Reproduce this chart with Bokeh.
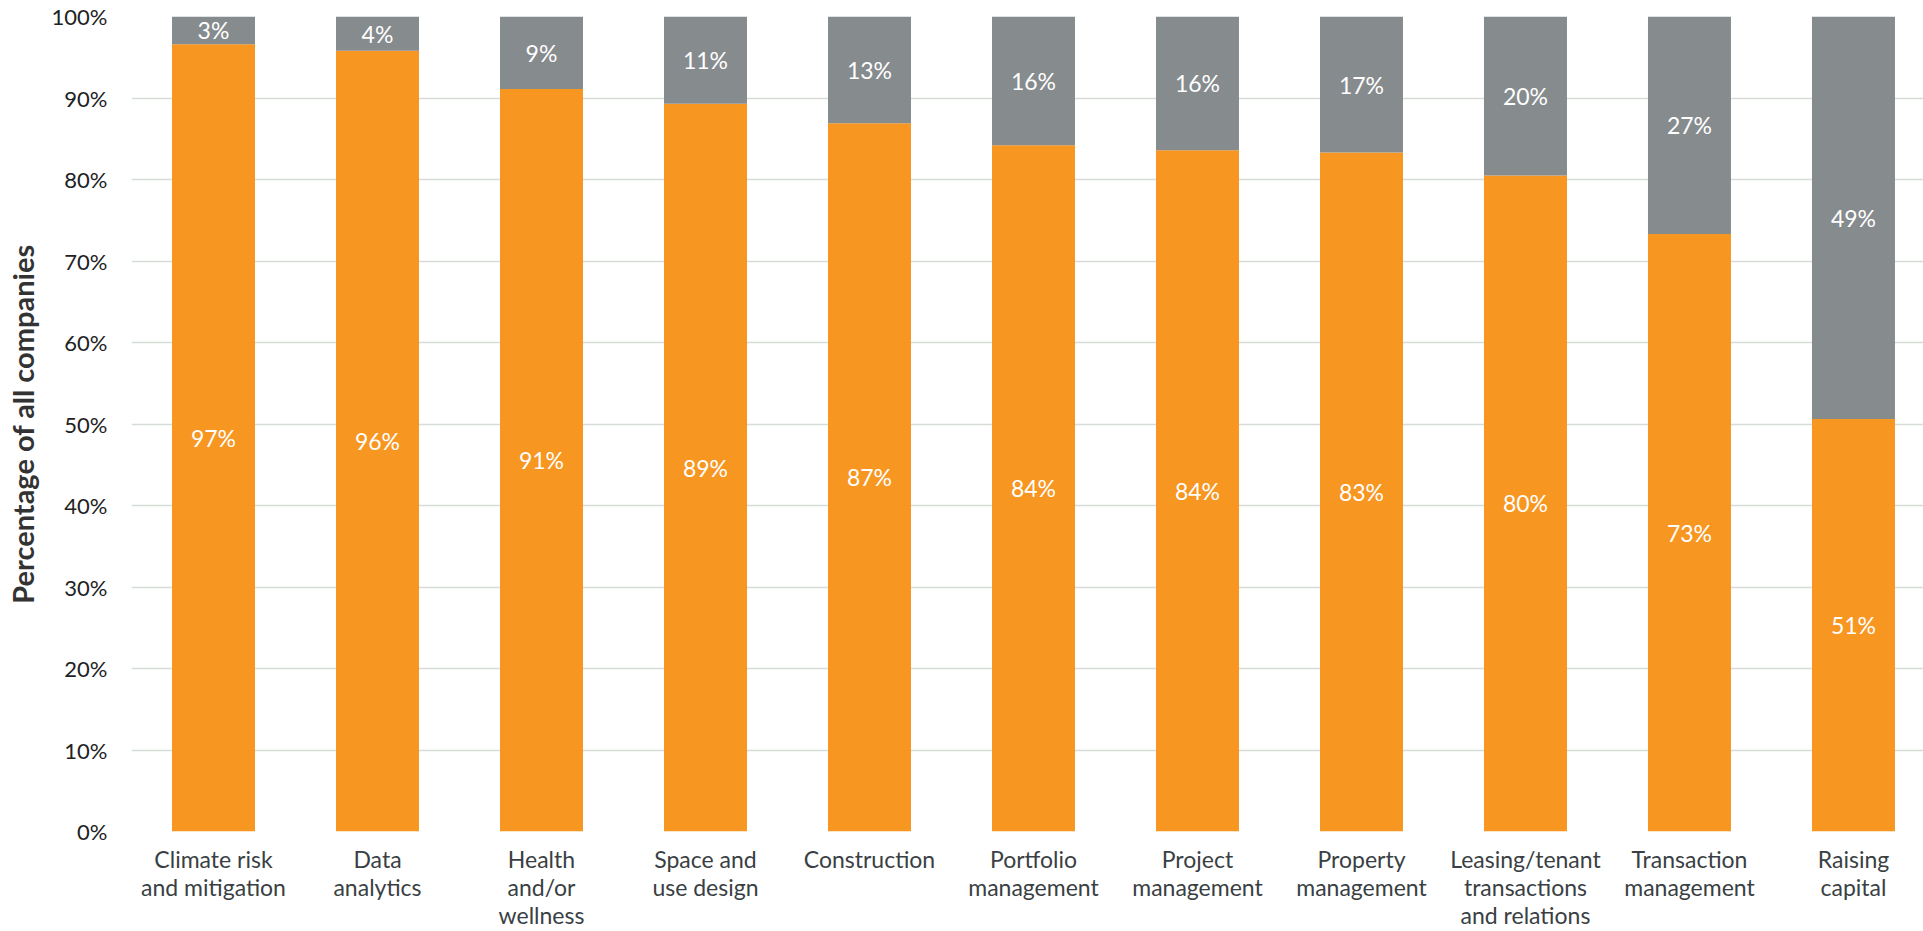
from bokeh.plotting import figure
from bokeh.models import ColumnDataSource, Range1d, FixedTicker, PrintfTickFormatter
from bokeh.core.properties import value
from bokeh.embed import file_html
from bokeh.resources import INLINE

categories = [
    "Climate risk\nand mitigation", "Data\nanalytics", "Health\nand/or\nwellness",
    "Space and\nuse design", "Construction", "Portfolio\nmanagement", "Project\nmanagement",
    "Property\nmanagement", "Leasing/tenant\ntransactions\nand relations",
    "Transaction\nmanagement", "Raising\ncapital",
]
yes_share = [96.6, 95.8, 91.1, 89.3, 86.9, 84.2, 83.6, 83.3, 80.5, 73.3, 50.6]
no_share = [3.4, 4.2, 8.9, 10.7, 13.1, 15.8, 16.4, 16.7, 19.5, 26.7, 49.4]
yes_labels = ["97%", "96%", "91%", "89%", "87%", "84%", "84%", "83%", "80%", "73%", "51%"]
no_labels = ["3%", "4%", "9%", "11%", "13%", "16%", "16%", "17%", "20%", "27%", "49%"]
y_ticks = [0, 10, 20, 30, 40, 50, 60, 70, 80, 90, 100]

ORANGE = "#F79621"
GREY = "#868B8E"
FONT = "Lato"

xs = list(range(len(categories)))
src = ColumnDataSource(dict(
    x=xs, yes=yes_share, no=no_share,
    yes_mid=[v / 2 for v in yes_share],
    no_mid=[y + n / 2 for y, n in zip(yes_share, no_share)],
    yes_lab=yes_labels, no_lab=no_labels,
))

p = figure(width=1923, height=931, output_backend="svg", toolbar_location=None,
           x_range=Range1d(-0.5, 10.427), y_range=Range1d(0, 100),
           min_border_left=131, min_border_right=0, min_border_top=16, min_border_bottom=99)
p.outline_line_color = None
p.background_fill_color = None
p.border_fill_color = "white"

p.vbar_stack(["yes", "no"], x="x", width=0.506, color=[ORANGE, GREY], line_color=None, source=src)

p.text(x="x", y="yes_mid", text="yes_lab", source=src, text_color="white",
       text_font=value(FONT), text_font_size="23px", text_align="center", text_baseline="middle")
p.text(x="x", y="no_mid", text="no_lab", source=src, text_color="white",
       text_font=value(FONT), text_font_size="23px", text_align="center", text_baseline="middle")

p.xgrid.grid_line_color = None
p.ygrid.grid_line_color = "#D6DDD6"
p.ygrid.grid_line_width = 1.5
p.ygrid.ticker = FixedTicker(ticks=y_ticks)
p.ygrid.level = "underlay"

p.yaxis.ticker = FixedTicker(ticks=y_ticks)
p.yaxis.formatter = PrintfTickFormatter(format="%d%%")
p.yaxis.axis_line_color = None
p.yaxis.major_tick_line_color = None
p.yaxis.minor_tick_line_color = None
p.yaxis.major_label_text_font = FONT
p.yaxis.major_label_text_font_size = "22px"
p.yaxis.major_label_text_color = "#222222"
p.yaxis.major_label_standoff = 18
p.yaxis.axis_label = "Percentage of all companies"
p.yaxis.axis_label_text_font = FONT
p.yaxis.axis_label_text_font_style = "bold"
p.yaxis.axis_label_text_font_size = "29px"
p.yaxis.axis_label_text_color = "#333333"
p.yaxis.axis_label_standoff = 9

p.xaxis.ticker = FixedTicker(ticks=xs)
p.xaxis.major_label_overrides = {i: c for i, c in zip(xs, categories)}
p.xaxis.axis_line_color = None
p.xaxis.major_tick_line_color = None
p.xaxis.minor_tick_line_color = None
p.xaxis.major_label_text_font = FONT
p.xaxis.major_label_text_font_size = "23px"
p.xaxis.major_label_text_color = "#3A3F44"
p.xaxis.major_label_text_line_height = 1.0
p.xaxis.major_label_standoff = 7

open("out.html", "w").write(file_html(p, INLINE))
